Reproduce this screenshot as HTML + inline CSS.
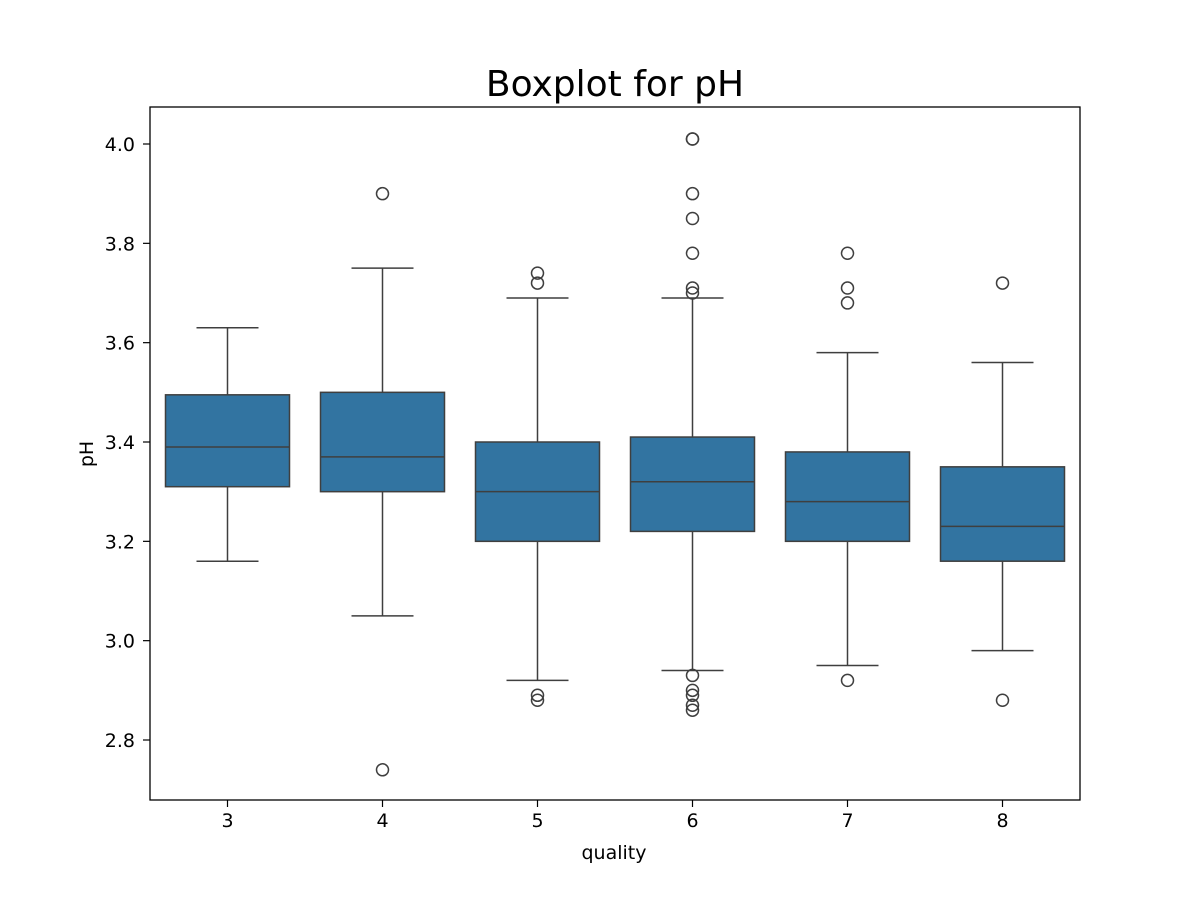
<!DOCTYPE html>
<html><head><meta charset="utf-8"><style>
body{margin:0;background:#fff;}
svg{display:block;font-family:"DejaVu Sans","Liberation Sans",sans-serif;}
</style></head><body>
<svg id="chart" width="1200" height="900">
<rect width="1200" height="900" fill="#fff"/>
<text x="615" y="96" font-size="36" text-anchor="middle">Boxplot for pH</text>
<g id="marks"></g>
<g id="axes"></g>
<rect x="150" y="107" width="930" height="693" fill="none" stroke="#000" stroke-width="1.3"/>
<text x="614" y="859" font-size="19" text-anchor="middle">quality</text>
<text transform="translate(93,454) rotate(-90)" font-size="19" text-anchor="middle">pH</text>
</svg>
<script>
const categories=["3","4","5","6","7","8"];
const q1=[3.31,3.30,3.20,3.22,3.20,3.16];
const medians=[3.39,3.37,3.30,3.32,3.28,3.23];
const q3=[3.495,3.50,3.40,3.41,3.38,3.35];
const whiskLow=[3.16,3.05,2.92,2.94,2.95,2.98];
const whiskHigh=[3.63,3.75,3.69,3.69,3.58,3.56];
const outliers=[[],[3.90,2.74],[3.74,3.72,2.89,2.88],[4.01,4.01,3.90,3.85,3.78,3.71,3.70,2.93,2.90,2.89,2.87,2.86],[3.78,3.71,3.68,2.92],[3.72,2.88]];
const yTicks=[2.8,3.0,3.2,3.4,3.6,3.8,4.0];

const NS="http://www.w3.org/2000/svg";
const yMin=2.6792,yMax=4.0745,plotTop=107,plotBot=800,plotLeft=150,plotRight=1080;
const yScale=v=>plotBot-(v-yMin)/(yMax-yMin)*(plotBot-plotTop);
const step=(plotRight-plotLeft)/categories.length;
const xScale=i=>plotLeft+step*(i+0.5);
const bw=step*0.8;
function mk(tag,attrs,parent){const e=document.createElementNS(NS,tag);for(const k in attrs)e.setAttribute(k,attrs[k]);parent.appendChild(e);return e;}
const marks=document.getElementById('marks'),axes=document.getElementById('axes');
const ec="#3f3f3f";
categories.forEach((c,i)=>{
  const g=mk('g',{},marks);
  
  
  const cx=xScale(i);
  const w1=mk('line',{x1:cx,x2:cx,y1:yScale(q3[i]),y2:yScale(whiskHigh[i]),stroke:ec,'stroke-width':1.5},g);
  
  
  const w2=mk('line',{x1:cx,x2:cx,y1:yScale(q1[i]),y2:yScale(whiskLow[i]),stroke:ec,'stroke-width':1.5},g);
  
  
  const c1=mk('line',{x1:cx-bw/4,x2:cx+bw/4,y1:yScale(whiskHigh[i]),y2:yScale(whiskHigh[i]),stroke:ec,'stroke-width':1.5},g);
  
  
  const c2=mk('line',{x1:cx-bw/4,x2:cx+bw/4,y1:yScale(whiskLow[i]),y2:yScale(whiskLow[i]),stroke:ec,'stroke-width':1.5},g);
  
  
  const b=mk('rect',{x:cx-bw/2,y:yScale(q3[i]),width:bw,height:yScale(q1[i])-yScale(q3[i]),fill:"#3274a1",stroke:ec,'stroke-width':1.5},g);
  
  
  const m=mk('line',{x1:cx-bw/2,x2:cx+bw/2,y1:yScale(medians[i]),y2:yScale(medians[i]),stroke:ec,'stroke-width':1.5},g);
  
  
  outliers[i].forEach(v=>{
    const o=mk('circle',{cx:cx,cy:yScale(v),r:6,fill:"none",stroke:ec,'stroke-width':1.5},g);
    
    
  });
  const t=mk('line',{x1:cx,x2:cx,y1:plotBot,y2:plotBot+7,stroke:"#000",'stroke-width':1.2},axes);
  
  
  const l=mk('text',{x:cx,y:plotBot+27,'font-size':19,'text-anchor':'middle'},axes);
  l.textContent=c;
  
  
});
yTicks.forEach(v=>{
  const t=mk('line',{x1:plotLeft-7,x2:plotLeft,y1:yScale(v),y2:yScale(v),stroke:"#000",'stroke-width':1.2},axes);
  
  
  const l=mk('text',{x:plotLeft-15,y:yScale(v)+7,'font-size':19,'text-anchor':'end'},axes);
  l.textContent=v.toFixed(1);
  
  
});
</script>
</body></html>
